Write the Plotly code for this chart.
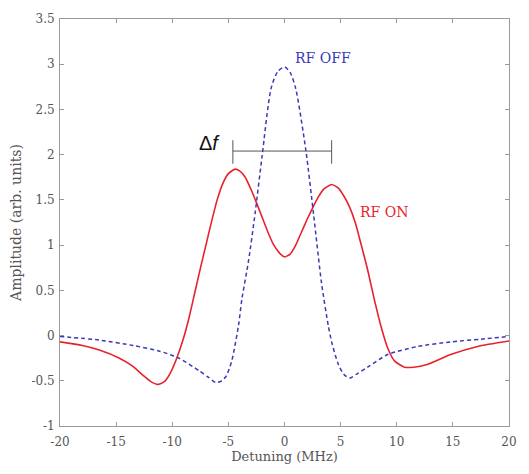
import plotly.graph_objects as go

# RF OFF (blue dashed)
off_x = [-20, -16.5, -13.5, -11.2, -9.4, -7.6, -6.8, -6.1, -5.6, -5.2, -4.7, -4.1, -3.8, -3.2, -2.6, -2.0,
         -1.2, -0.6, 0.0, 0.5, 1.0, 1.9, 2.6, 3.3, 3.9, 4.2, 4.8, 5.3, 5.8, 6.5, 7.4, 9.2, 11.9, 14.8, 17.5, 20]
off_y = [-0.01, -0.05, -0.11, -0.17, -0.25, -0.39, -0.46, -0.52, -0.50, -0.45, -0.28, 0.11, 0.40, 0.83, 1.37, 1.98,
         2.73, 2.92, 2.97, 2.91, 2.73, 2.05, 1.33, 0.58, 0.11, -0.07, -0.32, -0.43, -0.47, -0.42, -0.35, -0.21, -0.12, -0.07, -0.04, -0.01]

# RF ON (red solid)
on_x = [-20, -18, -16.5, -14.7, -13.5, -12.6, -11.9, -11.3, -10.7, -10.2, -9.6, -9.0, -8.5, -8.0, -7.5, -7.0,
        -6.5, -6.0, -5.5, -5.0, -4.4, -4.0, -3.5, -3.0, -2.5, -2.0, -1.5, -1.0, -0.5, 0.0, 0.5, 1.0, 1.5, 2.0,
        2.5, 3.0, 3.5, 4.2, 4.8, 5.3, 5.8, 6.3, 6.8, 7.4, 8.0, 8.6, 9.2, 9.8, 10.7, 11.5, 12.7, 14.8, 17.2, 20]
on_y = [-0.07, -0.11, -0.16, -0.25, -0.34, -0.44, -0.51, -0.54, -0.51, -0.42, -0.25, -0.03, 0.20, 0.47, 0.74, 1.00,
        1.26, 1.50, 1.68, 1.79, 1.84, 1.82, 1.75, 1.62, 1.47, 1.31, 1.15, 1.01, 0.92, 0.87, 0.90, 1.00, 1.14, 1.28,
        1.41, 1.53, 1.62, 1.67, 1.63, 1.54, 1.42, 1.25, 1.02, 0.73, 0.40, 0.10, -0.14, -0.28, -0.35, -0.35, -0.32, -0.21, -0.12, -0.06]

x_ticks = [-20, -15, -10, -5, 0, 5, 10, 15, 20]
x_tick_text = ["-20", "-15", "-10", "-5", "0", "5", "10", "15", "20"]
y_ticks = [-1, -0.5, 0, 0.5, 1, 1.5, 2, 2.5, 3, 3.5]
y_tick_text = ["-1", "-0.5", "0", "0.5", "1", "1.5", "2", "2.5", "3", "3.5"]

delta_f_span = [-4.6, 4.2]
delta_f_level = 2.04
delta_f_cap = [1.90, 2.16]

labels = ["RF OFF", "RF ON", "Δ<i>f</i>"]
label_x = [3.4, 8.85, -6.7]
label_y = [3.07, 1.37, 2.13]

blue = "#3a3ab8"
red = "#e8222c"
serif = "DejaVu Serif, Liberation Serif, serif"
grey_txt = "#555555"

fig = go.Figure()
fig.add_trace(go.Scatter(x=on_x, y=on_y, mode="lines", line=dict(color=red, width=1.6, shape="spline", smoothing=0.6)))
fig.add_trace(go.Scatter(x=off_x, y=off_y, mode="lines",
                         line=dict(color=blue, width=1.5, dash="4px,3px", shape="spline", smoothing=0.7)))

# Delta f bar
bar_col = "#555555"
fig.add_shape(type="line", x0=delta_f_span[0], x1=delta_f_span[1], y0=delta_f_level, y1=delta_f_level,
              xref="x", yref="y", line=dict(color=bar_col, width=1))
for xv in delta_f_span:
    fig.add_shape(type="line", x0=xv, x1=xv, y0=delta_f_cap[0], y1=delta_f_cap[1],
                  xref="x", yref="y", line=dict(color=bar_col, width=1))

fig.add_annotation(x=label_x[0], y=label_y[0], text=labels[0], showarrow=False,
                   font=dict(family=serif, size=14, color=blue))
fig.add_annotation(x=label_x[1], y=label_y[1], text=labels[1], showarrow=False,
                   font=dict(family=serif, size=14, color=red))
fig.add_annotation(x=label_x[2], y=label_y[2], text=labels[2], showarrow=False,
                   font=dict(family="Liberation Sans, Arial, sans-serif", size=20, color="#111111"))

axis_common = dict(showgrid=False, zeroline=False, showline=True, linecolor="#999999", linewidth=1,
                   mirror="ticks", ticks="inside", ticklen=4, tickcolor="#999999",
                   tickfont=dict(family=serif, size=12, color=grey_txt))

fig.update_layout(
    width=529, height=474,
    margin=dict(l=60, r=17, t=12, b=46),
    paper_bgcolor="white", plot_bgcolor="white",
    showlegend=False,
    font=dict(family=serif, color=grey_txt),
    xaxis=dict(range=[-20, 20], tickvals=x_ticks, ticktext=x_tick_text, ticklabelstandoff=5,
               title=dict(text="Detuning (MHz)", font=dict(family=serif, size=13, color=grey_txt), standoff=3),
               **axis_common),
    yaxis=dict(range=[-1, 3.5], tickvals=y_ticks, ticktext=y_tick_text, ticklabelstandoff=2,
               title=dict(text="Amplitude (arb. units)", font=dict(family=serif, size=14, color=grey_txt), standoff=6),
               **axis_common),
)

fig.write_html("out.html")
